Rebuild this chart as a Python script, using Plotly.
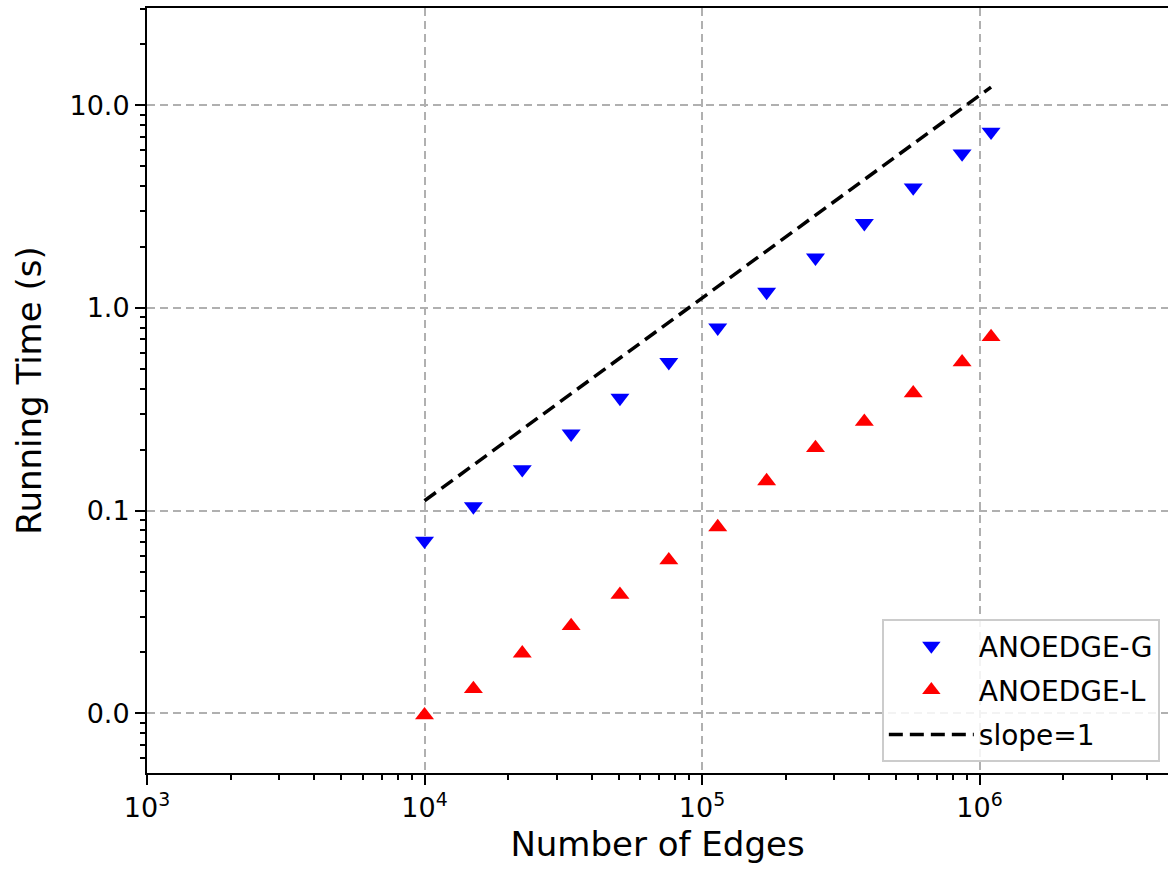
import plotly.graph_objects as go

edges = [1.0e4, 1.5e4, 2.25e4, 3.375e4, 5.06e4, 7.59e4, 1.139e5, 1.709e5,
         2.563e5, 3.844e5, 5.767e5, 8.65e5, 1.1e6]
time_g = [0.071, 0.105, 0.16, 0.24, 0.36, 0.54, 0.80, 1.2, 1.77, 2.62, 3.93, 5.78, 7.4]
time_l = [0.0098, 0.0132, 0.0198, 0.027, 0.0385, 0.057, 0.083, 0.14, 0.204, 0.275,
          0.38, 0.54, 0.72]
slope_x = [1.0e4, 1.1e6]
slope_y = [0.112, 12.3]

x_tickvals = [1e3, 1e4, 1e5, 1e6]
x_ticktext = ["10<sup>3</sup>", "10<sup>4</sup>", "10<sup>5</sup>", "10<sup>6</sup>"]
y_tickvals = [0.01, 0.1, 1, 10]
y_ticktext = ["0.0", "0.1", "1.0", "10.0"]

FONT = "DejaVu Sans"

fig = go.Figure()
fig.add_trace(go.Scatter(x=edges, y=time_g, mode="markers", name="ANOEDGE-G",
                         legendgroup="g",
                         marker=dict(symbol="triangle-down", size=16.5, color="#0000ff",
                                     line=dict(width=0))))
fig.add_trace(go.Scatter(x=edges, y=time_l, mode="markers", name="ANOEDGE-L",
                         legendgroup="l",
                         marker=dict(symbol="triangle-up", size=16.5, color="#ff0000",
                                     line=dict(width=0))))
fig.add_trace(go.Scatter(x=slope_x, y=slope_y, mode="lines", name="slope=1",
                         legendgroup="s",
                         line=dict(color="black", width=3.5, dash="14px,7px")))

axis_common = dict(
    type="log",
    showline=True, linecolor="black", linewidth=2,
    ticks="outside", ticklen=10, tickwidth=2, tickcolor="black",
    showgrid=True, gridcolor="#b0b0b0", gridwidth=1.6, griddash="8px,5px",
    zeroline=False,
    tickfont=dict(family=FONT, size=27, color="black"),
    minor=dict(ticks="outside", ticklen=5, tickwidth=1.5, tickcolor="black",
               dtick="D1", showgrid=False),
)

fig.update_layout(
    width=1168, height=872,
    margin=dict(l=147, r=0, t=8, b=99),
    paper_bgcolor="white", plot_bgcolor="white",
    showlegend=True,
    legend=dict(x=0.992, y=0.0144, xanchor="right", yanchor="bottom",
                bgcolor="rgba(255,255,255,0.85)", bordercolor="#cccccc", borderwidth=2,
                font=dict(family=FONT, size=28, color="black"),
                traceorder="grouped", tracegroupgap=5, itemwidth=85),
    xaxis=dict(axis_common, range=[3, 6.679], tickvals=x_tickvals, ticktext=x_ticktext,
               mirror=True,
               title=dict(text="Number of Edges", standoff=10,
                          font=dict(family=FONT, size=34, color="black"))),
    yaxis=dict(axis_common, range=[-2.294, 1.48], tickvals=y_tickvals, ticktext=y_ticktext,
               mirror=False,
               title=dict(text="Running Time (s)", standoff=18,
                          font=dict(family=FONT, size=34, color="black"))),
)

fig.write_html("out.html")
